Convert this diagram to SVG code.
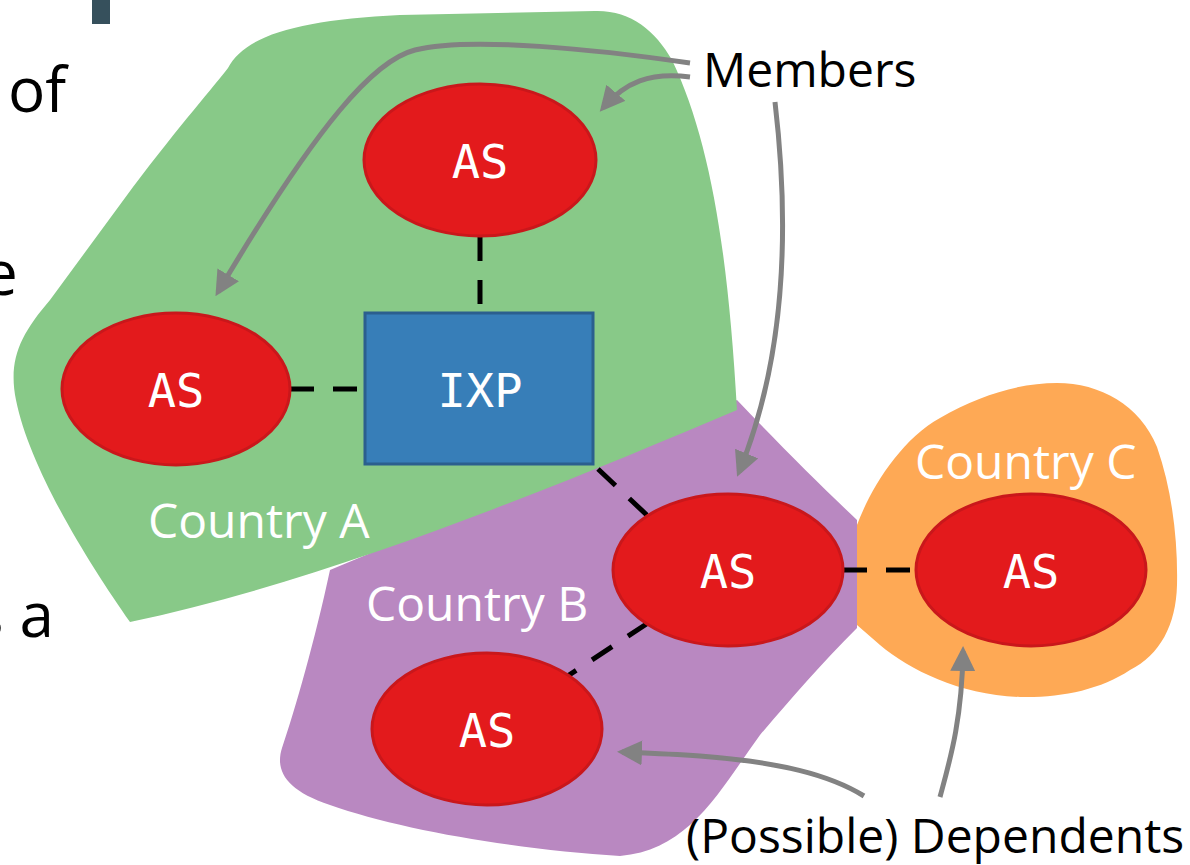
<svg xmlns="http://www.w3.org/2000/svg" width="1190" height="865" viewBox="0 0 1190 865">
<style>
.lbl{font-family:"Open Sans","Noto Sans","Liberation Sans",sans-serif;font-size:48px;fill:#ffffff}
.txt{font-family:"Open Sans","Noto Sans","Liberation Sans",sans-serif;font-size:48px;fill:#000000}
.big{font-family:"Open Sans","Noto Sans","Liberation Sans",sans-serif;font-size:62px;fill:#000000}
.as{fill:#e31a1c;stroke:#c9171b;stroke-width:3}
.mono{font-family:"DejaVu Sans Mono","Liberation Mono",monospace;font-size:47px;fill:#ffffff;text-anchor:middle}
.dash{stroke:#000;stroke-width:5;stroke-dasharray:24 19;fill:none}
.arr{stroke:#828282;stroke-width:5;fill:none;marker-end:url(#ah)}
</style>
<defs>
<marker id="ah" viewBox="0 0 10 10" refX="8" refY="5" markerWidth="5" markerHeight="5" orient="auto">
<path d="M0,0 L10,5 L0,10 z" fill="#828282"/>
</marker>
</defs>
<rect width="1190" height="865" fill="#ffffff"/>
<g id="slide-fragments">
<rect x="92" y="0" width="18" height="24" fill="#36505c"/>
<text class="big" x="8" y="112">of</text>
<text class="big" x="-17" y="295">e</text>
<text class="big" x="54" y="637" text-anchor="end">s a</text>
</g>
<g id="country-c">
<path d="M 857 525 C 870 490, 900 440, 940 418 C 980 395, 1020 383, 1057 383 C 1100 383, 1140 405, 1157 447 C 1172 490, 1178 540, 1177 585 C 1176 625, 1160 655, 1130 670 C 1100 690, 1060 698, 1020 697 C 960 695, 910 670, 880 645 L 857 625 Z" fill="#fea955"/>
<text class="lbl" x="915" y="479">Country C</text>
</g>
<g id="country-b">
<path d="M 330 570 L 737 400 C 780 445, 820 485, 857 520 L 857 628 C 820 665, 790 700, 760 735 C 720 790, 690 850, 620 856 C 520 850, 400 830, 330 805 C 285 790, 275 770, 282 748 C 295 710, 315 640, 330 570 Z" fill="#b988c1"/>
</g>
<g id="country-a">
<path d="M 130 622 C 90 565, 30 470, 16 400 C 8 360, 20 335, 50 300 L 133 187 C 180 125, 215 85, 228 68 C 245 35, 300 20, 400 15 L 595 11 C 630 10, 655 30, 672 60 C 710 140, 728 250, 737 410 C 560 485, 330 580, 130 622 Z" fill="#88c988"/>
<text class="lbl" x="148" y="538">Country A</text>
</g>
<g id="country-b-label">
<text class="lbl" x="366" y="621">Country B</text>
</g>
<g id="connectors">
<line class="dash" x1="480" y1="237" x2="480" y2="311"/>
<line class="dash" x1="290" y1="389" x2="364" y2="389"/>
<line class="dash" x1="598" y1="469" x2="650" y2="518"/>
<line class="dash" x1="648" y1="623" x2="566" y2="677"/>
<line class="dash" x1="843" y1="570" x2="916" y2="570"/>
<path class="arr" d="M 690 63 C 600 50, 470 36, 415 50 C 375 60, 320 120, 218 292"/>
<path class="arr" d="M 690 77 C 650 72, 625 82, 603 108"/>
<path class="arr" d="M 775 102 C 790 230, 785 360, 739 472"/>
<path class="arr" d="M 864 796 C 830 775, 780 762, 700 756 C 670 754, 645 753, 622 752"/>
<path class="arr" d="M 940 797 C 950 760, 962 720, 963 651"/>
</g>
<g id="as-top">
<ellipse class="as" cx="480" cy="160" rx="116" ry="76"/>
<text class="mono" x="480" y="178">AS</text>
</g>
<g id="as-left">
<ellipse class="as" cx="176" cy="389" rx="114" ry="76"/>
<text class="mono" x="176" y="407">AS</text>
</g>
<g id="ixp">
<rect x="365" y="313" width="228" height="151" fill="#377eb8" stroke="#2b5f8e" stroke-width="3"/>
<text class="mono" x="480" y="407">IXP</text>
</g>
<g id="as-mid">
<ellipse class="as" cx="728" cy="570" rx="115" ry="76"/>
<text class="mono" x="728" y="588">AS</text>
</g>
<g id="as-c">
<ellipse class="as" cx="1031" cy="570" rx="115" ry="76"/>
<text class="mono" x="1031" y="588">AS</text>
</g>
<g id="as-bottom">
<ellipse class="as" cx="487" cy="729" rx="115" ry="76"/>
<text class="mono" x="487" y="747">AS</text>
</g>
<g id="labels">
<text class="txt" x="703" y="87">Members</text>
<text class="txt" x="686" y="853">(Possible) Dependents</text>
</g>
</svg>
